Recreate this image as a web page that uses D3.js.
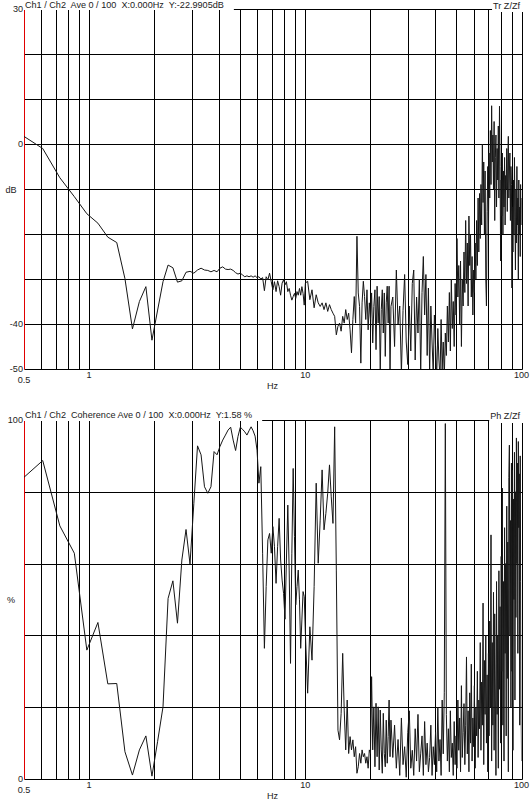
<!DOCTYPE html>
<html><head><meta charset="utf-8">
<script src="https://cdn.jsdelivr.net/npm/d3@7"></script>
<style>html,body{margin:0;padding:0;background:#fff}svg{display:block}text{font-family:"Liberation Sans",Arial,sans-serif;font-size:9.1px;fill:#222;white-space:pre}</style>
</head><body>
<svg id="c" width="531" height="805"></svg>
<script>
// ---- data ----
const binHz = 250 / 2048;            // spectral line spacing (Hz)
const lowStartBin = 4;               // bins 4..82, every bin
const midStartBin = 84, midStep = 2; // bins 84..204, every 2nd bin
const highStartBin = 208, highStep = 4; // bins 208..820, every 4th bin

const gridFreqs = [0.6,0.7,0.8,0.9,1,2,3,4,5,6,7,8,9,10,20,30,40,50,60,70,80,90,100];
const xTickValues = [1, 10, 100];
const xTickLabels = ["1", "10", "100"];

// Transfer function magnitude (dB)
const tfLowDb = [2.0,-1.0,-7.5,-11.7,-15.5,-17.6,-20.7,-21.9,-29.9,-41.1,-35.0,-31.7,-43.6,-36.9,-30.6,-26.9,-27.5,-30.7,-30.4,-28.5,
-28.3,-28.7,-28.0,-27.6,-28.0,-28.1,-28.4,-28.1,-28.4,-27.6,-27.3,-27.8,-27.9,-27.8,-28.1,-28.6,-28.9,-28.7,-29.1,-29.5,
-29.3,-29.5,-29.3,-29.6,-29.3,-29.7,-29.5,-30.0,-29.7,-32.6,-29.5,-30.2,-28.7,-30.6,-32.4,-30.6,-32.8,-30.4,-31.7,-33.6,
-30.9,-30.2,-31.3,-30.6,-32.8,-32.1,-33.6,-34.7,-33.9,-33.2,-34.3,-32.8,-33.6,-32.1,-33.6,-31.7,-33.2,-35.8,-30.9];
const tfMidDb = [-30.5,-34.6,-32.4,-36.4,-33.5,-35.3,-36.1,-35.3,-36.8,-35.3,-37.2,-35.7,-36.8,-37.6,-38.3,-42.4,-40.5,-39.8,-41.6,-38.3,
-39.8,-36.8,-39.0,-37.6,-41.3,-46.4,-39.0,-33.9,-39.8,-20.5,-33.1,-36.1,-48.7,-35.3,-30.5,-33.9,-39.0,-32.4,-41.3,-35.3,
-39.0,-33.1,-44.2,-36.1,-32.4,-45.7,-31.6,-39.8,-33.9,-51.0,-36.8,-32.4,-42.0,-33.1,-47.2,-35.3,-31.6,-39.8,-31.6,-51.0,-36.1];
const tfHighDb = [-34,-45,-28,-40,-36,-51,-37,-29,-44,-49,
-36,-46,-31,-28,-48,-34,-42,-30,-51,-33,
-25,-38,-29,-47,-32,-51,-36,-44,-51,-38,
-45,-52,-41,-48,-52,-39,-50,-44,-52,-42,
-47,-36,-44,-33,-46,-30,-41,-35,-45,-31,
-38,-21,-34,-27,-40,-26,-45,-30,-36,-24,
-33,-17,-31,-22,-36,-16,-27,-20,-34,-25,
-38,-28,-33,-22,-30,-17,-27,-12,-24,-11,
-21,-9,-18,0,-13,-4,-20,-6,-30,-36,
-15,-5,-20,-2,-12,3,-9,8.5,-4,2,
-10,5,-17,-3,2,-14,-1,-8,4,-12,8.4,
-5,-26,-8,-16,-2,-20,-6,-14,-3,-18,-7,
-10,-1,-15,-4,1.7,-12,-6,-2,-17,-5,-9,
-32,-14,-24,-8,-20,-3,-16,-28,-10,-22,-5,-18,-12,-30,-8,-20,-14,-25,-9,-18,-12];

// Coherence (%)
const cohLowPct = [83.5,88.7,70.5,62.9,35.9,43.6,26.5,26.6,7.6,1.1,8.1,12.0,0.8,10.5,20.1,50.3,55.2,43.4,61.0,69.5,
59.9,76.8,92.8,90.3,81.4,79.6,81.4,91.2,90.3,92.6,94.4,95.8,97.2,98.0,94.4,91.5,95.4,98.0,97.4,96.7,
95.8,97.0,98.1,97.0,95.5,91.6,82.4,87.0,62.9,36.4,53.6,66.6,68.4,62.9,70.3,64.7,54.5,64.7,72.6,61.0,
55.4,51.7,44.5,61.0,76.3,58.2,32.2,62.9,86.5,67.5,48.5,53.6,58.2,49.9,36.4,44.3,52.2,50.8,40.6];
const cohMidPct = [23.9,42.4,33.1,53.6,82.4,60.1,72.1,86.1,69.4,74.0,79.6,87.5,78.6,71.2,98.1,58.2,13.6,10.9,18.3,35.0,
19.2,8.1,22.0,7.1,11.8,8.1,10.9,6.2,9.0,1.6,3.4,7.1,4.4,8.1,6.2,7.1,4.4,6.2,3.0,8.1,
7.1,28.5,8.1,20.1,3.4,21.1,6.2,20.1,2.5,19.2,8.1,1.6,18.3,7.1,3.4,16.4,4.4,11.8,22.0,6.2,16.4];
const cohHighPct = [6,15,3,11,1,17,4,9,0.5,13,
19,3,8,1,14,5,18,2,7,12,1,16,4,10,2,6,15,1,9,4,
13,2,20,5,11,1,22,7,24,99,18,
5,14,2,19,6,10,1,16,4,12,
3,22,8,17,2,26,6,13,21,4,15,34,7,19,2,24,10,32,5,17,
9,26,3,20,12,30,6,22,14,38,
8,27,15,49,4,33,18,40,10,29,2,
35,12,44,20,68,5,38,15,52,8,46,22,1,55,18,40,3,58,25,48,
10,62,30,81,15,55,5,70,35,60,12,76,28,66,2,84,93,40,72,20,88,
30,86,8,78,50,91,22,80,45,95,60,88,35,94,70,85,15,90,55,20,5];

// ---- drawing ----
function toPoints(low, mid, high) {
  const pts = [];
  low.forEach((v, i) => pts.push([(lowStartBin + i) * binHz, v]));
  mid.forEach((v, i) => pts.push([(midStartBin + i * midStep) * binHz, v]));
  high.forEach((v, i) => pts.push([(highStartBin + i * highStep) * binHz, v]));
  return pts;
}

const svg = d3.select("#c");
const x = d3.scaleLog().domain([0.5, 100]).range([24, 521.5]);
const px = v => Math.round(x(v)) + 0.5;

function panel(o) {
  const g = svg.append("g");
  const y = d3.scaleLinear().domain(o.domain).range([o.bottom, o.top]);
  const py = v => Math.round(y(v)) + 0.5;
  const xl = px(0.5), xr = px(100);
  // horizontal grid
  g.selectAll(".h").data(o.hGrid).join("line")
    .attr("x1", xl).attr("x2", xr).attr("y1", d => py(d)).attr("y2", d => py(d))
    .attr("stroke", "#000").attr("stroke-width", 1);
  // vertical grid
  g.selectAll(".v").data(gridFreqs).join("line")
    .attr("x1", d => px(d)).attr("x2", d => px(d))
    .attr("y1", py(o.domain[1])).attr("y2", py(o.domain[0]))
    .attr("stroke", "#000").attr("stroke-width", 1);
  // left red border
  g.append("line").attr("x1", xl).attr("x2", xl)
    .attr("y1", py(o.domain[1])).attr("y2", py(o.domain[0]))
    .attr("stroke", "#e00000").attr("stroke-width", 1);
  // data
  const cid = "clip" + o.id;
  svg.append("clipPath").attr("id", cid).append("rect")
    .attr("x", x(0.5)).attr("y", y(o.domain[1])).attr("width", x(100) - x(0.5)).attr("height", y(o.domain[0]) - y(o.domain[1]));
  const line = d3.line().x(d => x(d[0])).y(d => y(d[1]));
  g.append("path").datum(o.points).attr("d", line).attr("clip-path", `url(#${cid})`)
    .attr("fill", "none").attr("stroke", "#161616").attr("stroke-width", 1).attr("stroke-linejoin", "miter");
  // header texts with white backgrounds
  const lt = g.append("text").attr("x", 25).attr("y", o.top + o.hdrDy).text(o.header);
  const w = lt.node().getComputedTextLength();
  g.insert("rect", "text").attr("x", xl - 0.5).attr("y", o.top - 20).attr("width", w + 11).attr("height", 20 + o.bgL)
    .attr("fill", "#fff");
  const rt = g.append("text").attr("x", 520).attr("y", o.top + o.rDy).attr("text-anchor", "end").text(o.right);
  const rw = rt.node().getComputedTextLength();
  g.insert("rect", "text").attr("x", 520 - rw - 1).attr("y", o.top - 20).attr("width", rw + 20).attr("height", 20 + o.bgR)
    .attr("fill", "#fff");
  // y labels
  o.yLabels.forEach(v => g.append("text").attr("x", 23).attr("y", y(v) + 3.4).attr("text-anchor", "end").text(v));
  g.append("text").attr("x", 11).attr("y", o.unitY).attr("text-anchor", "middle").text(o.unit);
  // x labels
  const ab = y(o.domain[0]);
  g.append("text").attr("x", x(0.5)).attr("y", ab + 14).attr("text-anchor", "middle").text("0.5");
  xTickValues.forEach((v, i) => g.append("text").attr("x", x(v)).attr("y", ab + 9.2).attr("text-anchor", "middle").text(xTickLabels[i]));
  g.append("text").attr("x", 272.5).attr("y", ab + 19.5).attr("text-anchor", "middle").text("Hz");
}

panel({
  id: "tf", domain: [-50, 30], top: 9, bottom: 369,
  hGrid: [-50, -40, -30, -20, -10, 0, 10, 20, 30],
  points: toPoints(tfLowDb, tfMidDb, tfHighDb),
  header: "Ch1 / Ch2  Ave 0 / 100  X:0.000Hz  Y:-22.9905dB", hdrDy: -0.6, bgL: 1,
  right: "Tr Z/Zf", rDy: 0, bgR: 3,
  yLabels: [30, 0, -40, -50], unit: "dB", unitY: 193
});
panel({
  id: "coh", domain: [0, 100], top: 420, bottom: 779,
  hGrid: [0, 20, 40, 60, 80, 100],
  points: toPoints(cohLowPct, cohMidPct, cohHighPct),
  header: "Ch1 / Ch2  Coherence Ave 0 / 100  X:0.000Hz  Y:1.58 %", hdrDy: -1.7, bgL: 1,
  right: "Ph Z/Zf", rDy: -0.7, bgR: 3,
  yLabels: [100, 0], unit: "%", unitY: 603
});
</script></body></html>
